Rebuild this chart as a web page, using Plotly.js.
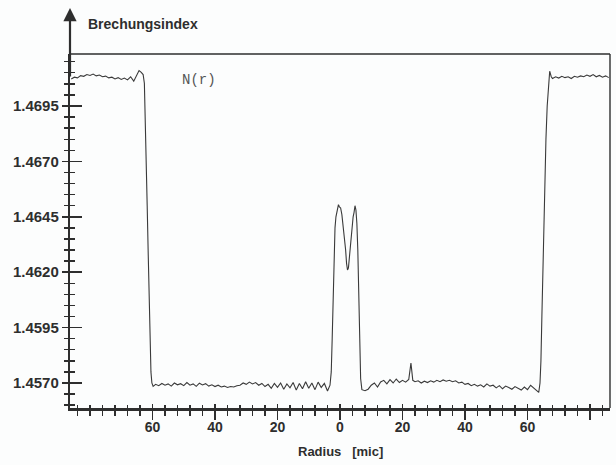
<!DOCTYPE html>
<html>
<head>
<meta charset="utf-8">
<script src="https://cdn.plot.ly/plotly-3.0.1.min.js"></script>
<style>html,body{margin:0;padding:0;background:#fcfdfd;}#chart{width:616px;height:465px;}</style>
</head>
<body>
<div id="chart"></div>
<script>
// Radius in microns (left side negative, shown with absolute labels)
const radius = [
-86,-85,-84,-83,-82,-81,-80,-79,-78,-77,-76,-75,-74,-73,-72,-71,-70,-69,-68,-67,-66,-65,-64.3,-63.6,-63.0,-62.6,
-62.3,-62.0,-61.7,-61.4,-61.1,-60.8,-60.5,-60.2,-59.8,
-59,-58,-57,-56,-55,-54,-53,-52,-51,-50,-49,-48,-47,-46,-45,-44,-43,-42,-41,-40,-39,-38,-37,-36,-35,-34,-33,-32,-31,-30,
-29,-28,-27,-26,-25,-24,-23,-22,-21,-20,-19,-18,-17,-16,-15,-14,-13,-12,-11,-10,-9,-8,-7,-6,-5,-4,-3.2,
-2.8,-2.5,-2.2,-1.9,-1.6,-1.3,-0.9,-0.5,-0.2,0.2,0.6,1.0,1.4,1.8,2.1,2.4,2.7,3.0,3.3,3.6,3.9,4.2,4.5,4.8,5.1,5.4,5.7,6.0,6.3,6.6,7.0,
8,9,10,11,12,13,14,15,16,17,18,19,20,21,22,22.7,23.3,24,25,26,27,28,29,30,31,32,33,34,35,36,37,38,39,40,
41,42,43,44,45,46,47,48,49,50,51,52,53,54,55,56,57,58,59,60,61,62,63,63.6,
64.0,64.3,64.6,64.9,65.2,65.5,65.9,66.3,66.7,67.1,67.6,
68,69,70,71,72,73,74,75,76,77,78,79,80,81,82,83,84,85,86
];
// Refractive index N(r)
const index = [
1.47072,1.47080,1.47077,1.47087,1.47084,1.47092,1.47088,1.47094,1.47086,1.47090,1.47082,1.47085,1.47077,1.47080,1.47072,1.47078,1.47070,1.47076,1.47068,1.47082,1.47062,1.47087,1.47110,1.47102,1.47092,1.47052,
1.4690,1.4670,1.4650,1.4630,1.4610,1.4590,1.4575,1.45700,1.45685,
1.45694,1.45688,1.45698,1.45690,1.45696,1.45686,1.45700,1.45692,1.45697,1.45688,1.45702,1.45690,1.45696,1.45685,1.45699,1.45691,1.45697,1.45686,1.45692,1.45684,1.45690,1.45682,1.45686,1.45680,1.45684,1.45682,1.45688,1.45690,1.45700,1.45694,
1.45704,1.45696,1.45702,1.45690,1.45698,1.45684,1.45694,1.45676,1.45698,1.45680,1.45700,1.45672,1.45696,1.45678,1.45702,1.45668,1.45698,1.45674,1.45706,1.45676,1.45700,1.45670,1.45704,1.45680,1.45698,1.45664,1.45690,
1.4575,1.4590,1.4610,1.4630,1.4640,1.4645,1.4648,1.46505,1.46495,1.4649,1.4646,1.4641,1.4636,1.4630,1.4624,1.4621,1.4622,1.4627,1.4633,1.4639,1.4643,1.4645,1.4647,1.4650,1.4648,1.4642,1.4630,1.4612,1.4590,1.4572,1.45670,
1.45665,1.45672,1.45690,1.45700,1.45682,1.45705,1.45712,1.45696,1.45715,1.45700,1.45718,1.45702,1.45712,1.45704,1.45716,1.45790,1.45712,1.45706,1.45710,1.45700,1.45708,1.45702,1.45710,1.45704,1.45712,1.45706,1.45714,1.45708,1.45712,1.45706,1.45710,1.45700,1.45704,1.45694,
1.45698,1.45688,1.45694,1.45686,1.45692,1.45682,1.45696,1.45686,1.45690,1.45678,1.45688,1.45674,1.45686,1.45680,1.45672,1.45684,1.45676,1.45668,1.45682,1.45670,1.45690,1.45676,1.45662,1.45658,
1.45700,1.4580,1.4600,1.4620,1.4640,1.4660,1.4680,1.4695,1.4704,1.47107,1.47082,
1.47074,1.47082,1.47076,1.47084,1.47078,1.47082,1.47074,1.47084,1.47080,1.47086,1.47082,1.47090,1.47084,1.47092,1.47082,1.47088,1.47080,1.47086,1.47078
];
const xTickVals = [-60,-40,-20,0,20,40,60,80];
const xTickText = ['60','40','20','0','20','40','60',''];
const yTickVals = [1.4570,1.4595,1.4620,1.4645,1.4670,1.4695];
const yTickText = ['1.4570','1.4595','1.4620','1.4645','1.4670','1.4695'];

const xRange = [-86.4, 86.4];
const yRange = [1.455872, 1.471847];
const ink = '#2e2e2e';

const traces = [
  {x: radius, y: index, type: 'scatter', mode: 'lines', line: {color: '#3a3a3a', width: 1.1}, hoverinfo: 'skip'},
  {x: [], y: [], xaxis: 'x2', yaxis: 'y2', type: 'scatter', mode: 'lines', hoverinfo: 'skip'}
];

const tickFont = {family: 'Liberation Sans, Arial, sans-serif', size: 14, color: ink, weight: 'bold'};

const layout = {
  width: 616, height: 465,
  margin: {l: 70, r: 6, t: 54, b: 57},
  paper_bgcolor: '#fcfdfd', plot_bgcolor: '#fcfdfd',
  showlegend: false,
  xaxis: {
    range: xRange, showgrid: false, zeroline: false,
    showline: true, linecolor: ink, linewidth: 2.5,
    tickmode: 'array', tickvals: xTickVals, ticktext: xTickText,
    ticks: 'outside', ticklen: 9, tickwidth: 1.6, tickcolor: ink,
    minor: {dtick: 4, tick0: 0, ticks: 'outside', ticklen: 5, tickwidth: 1.4, tickcolor: ink, showgrid: false},
    tickfont: tickFont, ticklabelstandoff: -4
  },
  yaxis: {
    range: yRange, showgrid: false, zeroline: false,
    showline: true, linecolor: ink, linewidth: 2.2,
    tickmode: 'array', tickvals: yTickVals, ticktext: yTickText,
    ticks: 'outside', ticklen: 6, tickwidth: 1.6, tickcolor: ink,
    minor: {dtick: 0.0005, tick0: 1.4570, ticks: 'outside', ticklen: 4, tickwidth: 1.4, tickcolor: ink, showgrid: false},
    tickfont: {family: 'Liberation Sans, Arial, sans-serif', size: 15, color: ink, weight: 'bold'}
  },
  xaxis2: {
    overlaying: 'x', anchor: 'y2', range: xRange, showgrid: false, zeroline: false, showline: false,
    tickmode: 'array', tickvals: xTickVals, showticklabels: false,
    ticks: 'inside', ticklen: 4, tickwidth: 1.6, tickcolor: ink,
    minor: {dtick: 4, tick0: 0, ticks: 'inside', ticklen: 3, tickwidth: 1.4, tickcolor: ink, showgrid: false}
  },
  yaxis2: {
    overlaying: 'y', anchor: 'x2', range: yRange, showgrid: false, zeroline: false, showline: false,
    tickmode: 'array', tickvals: yTickVals, showticklabels: false,
    ticks: 'inside', ticklen: 12, tickwidth: 1.6, tickcolor: ink,
    minor: {dtick: 0.0005, tick0: 1.4570, ticks: 'inside', ticklen: 5, tickwidth: 1.4, tickcolor: ink, showgrid: false}
  },
  shapes: [
    {type: 'line', xref: 'paper', yref: 'paper', x0: 0, x1: 1, y0: 1, y1: 1, line: {color: ink, width: 1.4}},
    {type: 'line', xref: 'paper', yref: 'paper', x0: 1, x1: 1, y0: 0, y1: 1, line: {color: ink, width: 1.4}}
  ],
  annotations: [
    {xref: 'paper', yref: 'paper', x: 0, y: 1.13, ax: 0, ay: 70, axref: 'pixel', ayref: 'pixel',
     showarrow: true, arrowhead: 2, arrowsize: 1.2, arrowwidth: 2.2, arrowcolor: ink, text: ''},
    {xref: 'paper', yref: 'paper', x: 0.029, y: 1.085, xanchor: 'left', yanchor: 'middle', showarrow: false,
     text: '<b>Brechungsindex</b>', font: {family: 'Liberation Sans, Arial, sans-serif', size: 14, color: ink}},
    {xref: 'paper', yref: 'paper', x: 0.204, y: 0.927, xanchor: 'left', yanchor: 'middle', showarrow: false,
     text: 'N(r)', font: {family: 'Liberation Mono, DejaVu Sans Mono, monospace', size: 14, color: '#555'}},
    {xref: 'paper', yref: 'paper', x: 0.5, y: -0.124, xanchor: 'center', yanchor: 'middle', showarrow: false,
     text: '<b>Radius   [mic]</b>', font: {family: 'Liberation Sans, Arial, sans-serif', size: 13, color: ink}}
  ]
};

Plotly.newPlot('chart', traces, layout, {staticPlot: true, displayModeBar: false});
</script>
</body>
</html>
